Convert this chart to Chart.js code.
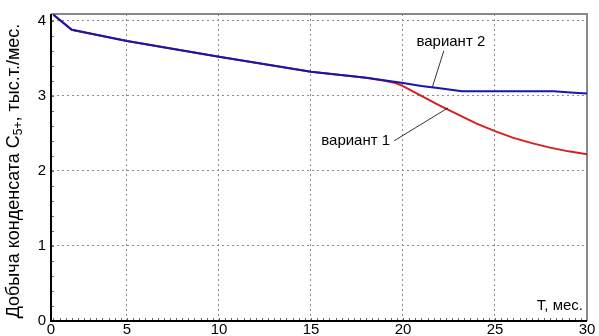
<!DOCTYPE html>
<html>
<head>
<meta charset="utf-8">
<script src="https://cdn.jsdelivr.net/npm/chart.js@4/dist/chart.umd.min.js"></script>
<style>
html,body{margin:0;padding:0;background:#fff;}
#wrap{width:599px;height:336px;position:relative;}
</style>
</head>
<body>
<div id="wrap"><canvas id="c" width="599" height="336"></canvas></div>
<script>
// ---- data ----
const xTicks = [5, 10, 15, 20, 25, 30];
const yTicks = [0, 1, 2, 3, 4];
const variant2T = [1, 2, 5, 10, 15, 18, 20, 21, 22, 23.2, 28.2, 29.3, 30];
const variant2Q = [4.08, 3.88, 3.73, 3.52, 3.32, 3.24, 3.17, 3.13, 3.10, 3.06, 3.06, 3.04, 3.03];
const variant1T = [1, 2, 5, 10, 15, 18, 19, 19.6, 20, 21, 22, 23, 24, 25, 26, 27, 28, 29, 30];
const variant1Q = [4.08, 3.88, 3.73, 3.52, 3.32, 3.24, 3.20, 3.17, 3.13, 3.00, 2.87, 2.75, 2.63, 2.53, 2.44, 2.37, 2.31, 2.26, 2.22];
const seriesNames = ['вариант 1', 'вариант 2'];
const yTitleMain = 'Добыча конденсата C';
const yTitleSub = '5+';
const yTitleRest = ', тыс.т./мес.';
const xTitle = 'T, мес.';
// label anchor points (data coords)
const label1 = {tx: 19.3, ty: 2.4, lx: 22.45, ly: 2.84};
const label2 = {tx: 22.6, ty: 3.72, lx: 21.6, ly: 3.12};

const X_MIN = 0.87, X_MAX = 30, Y_MIN = 0, Y_MAX = 4.09;
const FONT = 'Liberation Sans, Arial, sans-serif';

const toXY = (xs, ys) => xs.map((x, i) => ({x: x, y: ys[i]}));

const deco = {
  id: 'deco',
  beforeDatasetsDraw(chart) {
    const {ctx, chartArea: a, scales: {x, y}} = chart;
    ctx.save();
    ctx.strokeStyle = '#666';
    ctx.lineWidth = 1;
    ctx.beginPath();
    for (let k = 0; k <= 90; k++) {
      const v = k / 3;
      if (v < X_MIN || v > X_MAX) continue;
      const px = Math.round(x.getPixelForValue(v)) + 0.5;
      ctx.moveTo(px, a.bottom); ctx.lineTo(px, a.bottom - 3);
    }
    for (let k = 0; k <= 20; k++) {
      const v = k * 0.2;
      const py = Math.round(y.getPixelForValue(v)) + 0.5;
      ctx.moveTo(a.left, py); ctx.lineTo(a.left + 3, py);
    }
    ctx.stroke();
    ctx.strokeStyle = '#888';
    ctx.lineWidth = 2;
    ctx.beginPath();
    ctx.moveTo(a.left, a.top); ctx.lineTo(a.right, a.top); ctx.lineTo(a.right, a.bottom);
    ctx.stroke();
    ctx.strokeStyle = '#000';
    ctx.beginPath();
    ctx.moveTo(a.left, a.top); ctx.lineTo(a.left, a.bottom); ctx.lineTo(a.right, a.bottom);
    ctx.stroke();
    ctx.restore();
  },
  afterDraw(chart) {
    const {ctx, chartArea: a, scales: {x, y}} = chart;
    ctx.save();
    ctx.fillStyle = '#000';
    ctx.font = '15px ' + FONT;
    ctx.textBaseline = 'middle';
    ctx.strokeStyle = '#000';
    ctx.lineWidth = 0.8;
    const lead = (L, sx, sy) => {
      ctx.beginPath();
      ctx.moveTo(sx, sy);
      ctx.lineTo(x.getPixelForValue(L.lx), y.getPixelForValue(L.ly));
      ctx.stroke();
    };
    const t1x = x.getPixelForValue(label1.tx), t1y = y.getPixelForValue(label1.ty);
    ctx.textAlign = 'right';
    ctx.fillText(seriesNames[0], t1x, t1y);
    lead(label1, t1x + 4, t1y);
    const t2x = x.getPixelForValue(label2.tx), t2y = y.getPixelForValue(label2.ty);
    ctx.textAlign = 'center';
    ctx.fillText(seriesNames[1], t2x, t2y);
    lead(label2, t2x - 7, t2y + 9);
    ctx.textAlign = 'right';
    ctx.fillText(xTitle, a.right - 4, a.bottom - 15);
    ctx.translate(14, 171);
    ctx.rotate(-Math.PI / 2);
    ctx.textAlign = 'left';
    ctx.textBaseline = 'middle';
    const big = '18px ' + FONT, small = '12px ' + FONT;
    ctx.font = big;
    const w1 = ctx.measureText(yTitleMain).width;
    ctx.font = small;
    const w2 = ctx.measureText(yTitleSub).width;
    ctx.font = big;
    const w3 = ctx.measureText(yTitleRest).width;
    let sx = -(w1 + w2 + w3) / 2;
    ctx.fillText(yTitleMain, sx, 0);
    sx += w1;
    ctx.font = small;
    ctx.fillText(yTitleSub, sx, 5);
    sx += w2;
    ctx.font = big;
    ctx.fillText(yTitleRest, sx, 0);
    ctx.restore();
  }
};

new Chart(document.getElementById('c'), {
  type: 'line',
  data: {
    datasets: [
      {label: seriesNames[1], data: toXY(variant2T, variant2Q), borderColor: '#1616b0', borderWidth: 2, pointRadius: 0, tension: 0, fill: false, order: 0},
      {label: seriesNames[0], data: toXY(variant1T, variant1Q), borderColor: '#d42020', borderWidth: 2, pointRadius: 0, tension: 0, fill: false, order: 1}
    ]
  },
  options: {
    responsive: false,
    animation: false,
    layout: {padding: {top: 14, right: 12, left: 0, bottom: 0}},
    plugins: {legend: {display: false}, tooltip: {enabled: false}},
    scales: {
      x: {
        type: 'linear', min: X_MIN, max: X_MAX,
        afterBuildTicks: s => { s.ticks = [{value: X_MIN}].concat(xTicks.map(v => ({value: v}))); },
        afterFit: s => { s.height = 15; },
        ticks: {
          color: '#000', font: {size: 15, family: FONT}, padding: 0, maxRotation: 0, autoSkip: false,
          callback: (v) => (v === X_MIN ? '0' : String(v))
        },
        grid: {color: c => (c.tick && c.tick.value === X_MIN ? 'rgba(0,0,0,0)' : '#8c8c8c'), lineWidth: 1, drawTicks: false},
        border: {display: true, color: 'rgba(0,0,0,0)', dash: [2, 3]}
      },
      y: {
        min: Y_MIN, max: Y_MAX,
        afterBuildTicks: s => { s.ticks = yTicks.map(v => ({value: v})); },
        afterFit: s => { s.width = 51; },
        ticks: {color: '#000', font: {size: 15, family: FONT}, padding: 5},
        grid: {color: c => (c.tick && c.tick.value === 0 ? 'rgba(0,0,0,0)' : '#8c8c8c'), lineWidth: 1, drawTicks: false},
        border: {display: true, color: 'rgba(0,0,0,0)', dash: [2, 3]}
      }
    }
  },
  plugins: [deco]
});
</script>
</body>
</html>
